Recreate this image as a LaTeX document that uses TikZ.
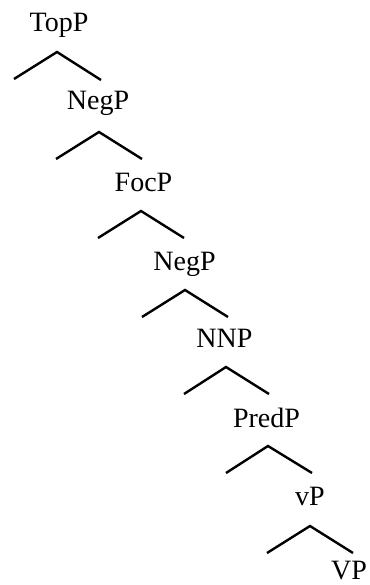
\documentclass[tikz,border=0pt]{standalone}
\usepackage{fontspec}
\setmainfont{Liberation Serif}
\begin{document}
\begin{tikzpicture}[x=1pt,y=-1pt,
  lbl/.style={anchor=base,inner sep=0pt,font=\fontsize{28}{33}\selectfont},
  branch/.style={line width=2.4pt,black}]
\useasboundingbox (0,0) rectangle (369,585);
% category labels
\node[lbl] (topp)  at (59,32)    {TopP};
\node[lbl] (negp1) at (98,110)   {NegP};
\node[lbl] (focp)  at (143.5,192){FocP};
\node[lbl] (negp2) at (184.5,270){NegP};
\node[lbl] (nnp)   at (224.5,347){NNP};
\node[lbl] (predp) at (266.5,427){PredP};
\node[lbl] (vp)    at (310,505)  {vP};
\node[lbl] (bigvp) at (349,579)  {VP};
% branching points: left end, apex, right end of each level
\foreach \n/\lx/\ly/\ax/\ay/\rx/\ry in {
  0/14/79/57/52/101/80,
  1/56/159/99/132/142/159,
  2/98/238/141/211/184/238,
  3/142/317/185/290/228/317,
  4/184/394/226/367/269/394,
  5/226/473/268/446/312/473,
  6/267/553/310/526/353/553}{
  \coordinate (l\n) at (\lx,\ly);
  \coordinate (a\n) at (\ax,\ay);
  \coordinate (r\n) at (\rx,\ry);
  \draw[branch] (l\n) -- (a\n) -- (r\n);
}
\end{tikzpicture}
\end{document}
